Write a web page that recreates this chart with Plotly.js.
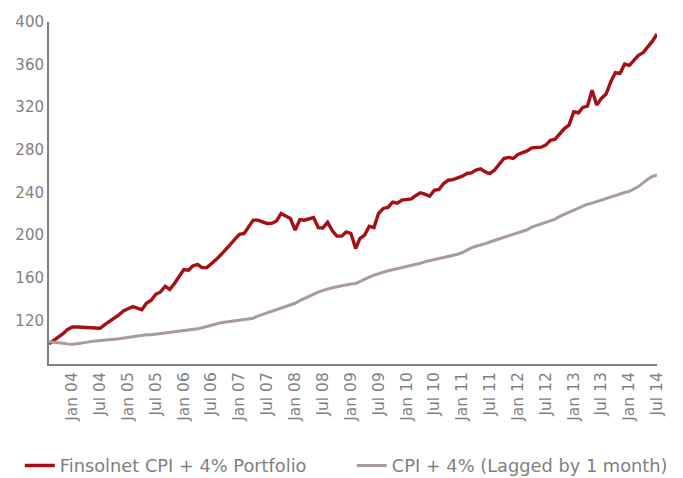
<!DOCTYPE html>
<html>
<head>
<meta charset="utf-8">
<script src="https://cdn.plot.ly/plotly-3.0.1.min.js"></script>
<style>html,body{margin:0;padding:0;background:#fff;}#chart{width:683px;height:478px;}</style>
</head>
<body>
<div id="chart"></div>
<script>
// Monthly series, Aug 2003 .. Jul 2014
const startYear = 2003, startMonth = 8;
const portfolio = [
  98, 101, 104, 107.5, 111.5, 113.7, 113.7, 113.5, 113.4, 113, 112.8, 112.5,
  116, 119, 122, 125, 128.8, 130.5, 133, 131.5, 130, 136, 138.8, 144.4,
  146.6, 152, 149, 154.5, 161, 167.6, 167, 171, 172.6, 169.5, 169.5, 173,
  177, 181.5, 185.8, 191, 196, 200.8, 201.5, 208, 214, 214, 212, 210.9,
  211, 213.3, 220.3, 218, 215.5, 204.6, 214.6, 214, 215, 216.5, 207, 206.7,
  212, 204, 199, 199, 203, 201.5, 187.4, 197, 200, 208.3, 207, 220.3,
  225, 226, 231, 230, 232.8, 233.5, 234, 237, 239.6, 238.4, 236.5, 242,
  242.8, 248.4, 251.5, 252, 253.5, 255.3, 257.8, 258.4, 261, 262.2, 259.3, 257.8,
  261, 267, 271.9, 272.9, 271.9, 275.7, 277.6, 279, 281.9, 281.9, 282.5, 284.4,
  289, 290, 295.4, 300, 303.2, 315.7, 314.8, 319.8, 321, 336, 322, 328.3,
  332.3, 343.9, 352.4, 351.8, 360.5, 359.3, 364.3, 368.7, 371.2, 376, 382, 388.7
];
const cpiPlus4 = [
  99.8, 99.5, 99, 98.5, 97.8, 97.5, 98, 98.8, 99.5, 100, 100.5, 100.8,
  101.5, 102, 102.3, 102.8, 103.5, 104, 104.3, 105, 105.8, 106.5, 106.5, 107,
  107.5, 108, 109, 109.5, 110, 110.5, 111, 111.5, 112, 113, 114, 115,
  116.5, 117.8, 118.5, 119, 119.5, 120, 121, 121.5, 122, 124, 125.5, 127,
  128.5, 130, 131, 132.5, 134, 136, 138.5, 140.5, 142, 144, 146.5, 148,
  149.5, 150.5, 151.5, 152.5, 153.5, 154, 154.5, 156.5, 159, 160.5, 162.5, 164,
  165.5, 166.5, 167.5, 168.5, 169.5, 170.5, 171, 172, 173.5, 175, 176, 176.5,
  177.5, 178.5, 179.5, 180.5, 182, 183.5, 186, 188, 189.5, 190.5, 192, 193.5,
  195, 196.5, 198, 199.5, 200.5, 202, 203.5, 205, 207.5, 209, 210.5, 212,
  214, 215, 217.5, 219.5, 221, 223, 225.5, 227.5, 229, 230, 231.5, 233,
  234, 236, 237, 238.5, 240, 241, 243, 245.5, 249, 252.5, 255, 256.5
];
const tickLabels = ["Jan 04","Jul 04","Jan 05","Jul 05","Jan 06","Jul 06","Jan 07","Jul 07",
  "Jan 08","Jul 08","Jan 09","Jul 09","Jan 10","Jul 10","Jan 11","Jul 11","Jan 12","Jul 12",
  "Jan 13","Jul 13","Jan 14","Jul 14"];
const tickDates = ["2004-01-01","2004-07-01","2005-01-01","2005-07-01","2006-01-01","2006-07-01",
  "2007-01-01","2007-07-01","2008-01-01","2008-07-01","2009-01-01","2009-07-01","2010-01-01",
  "2010-07-01","2011-01-01","2011-07-01","2012-01-01","2012-07-01","2013-01-01","2013-07-01",
  "2014-01-01","2014-07-01"];
const yTicks = [120,160,200,240,280,320,360,400];
const seriesNames = ["Finsolnet CPI + 4% Portfolio", "CPI + 4% (Lagged by 1 month)"];

function monthDate(i){
  const t = (startMonth - 1) + i;
  const y = startYear + Math.floor(t/12);
  const m = (t % 12) + 1;
  return y + "-" + (m<10?"0":"") + m + "-01";
}
const dates = portfolio.map((_, i) => monthDate(i));

const textColor = "#7f7f7f";
const fam = "DejaVu Sans, sans-serif";

const traces = [
  {x: dates, y: portfolio, name: seriesNames[0], type: "scatter", mode: "lines",
   line: {color: "#a50f15", width: 3.4}, legend: "legend"},
  {x: dates, y: cpiPlus4, name: seriesNames[1], type: "scatter", mode: "lines",
   line: {color: "#a99b9b", width: 3}, legend: "legend2"}
];

const legendFont = {family: fam, size: 17.8, color: textColor};
const layout = {
  width: 683, height: 478,
  margin: {l: 49, r: 26, t: 22, b: 114, autoexpand: false},
  paper_bgcolor: "#fff", plot_bgcolor: "#fff",
  font: {family: fam, size: 15, color: textColor},
  showlegend: true,
  legend: {orientation: "h", x: -0.048, xanchor: "left", y: -0.298, yanchor: "middle",
           font: legendFont, bgcolor: "rgba(0,0,0,0)"},
  legend2: {orientation: "h", x: 0.498, xanchor: "left", y: -0.298, yanchor: "middle",
           font: legendFont, bgcolor: "rgba(0,0,0,0)"},
  xaxis: {
    type: "date", range: [dates[0], dates[dates.length-1]], automargin: false,
    tickmode: "array", tickvals: tickDates, ticktext: tickLabels,
    tickangle: -90, tickfont: {family: fam, size: 15.5, color: textColor},
    showgrid: false, zeroline: false, showline: true, linecolor: "#808080", linewidth: 2,
    ticks: "", ticklen: 0
  },
  yaxis: {
    range: [79, 400], tickmode: "array", tickvals: yTicks, automargin: false,
    tickfont: {family: fam, size: 15, color: textColor},
    showgrid: false, zeroline: false, showline: true, linecolor: "#808080", linewidth: 2,
    ticks: "", ticklen: 0
  }
};

Plotly.newPlot("chart", traces, layout, {displayModeBar: false, staticPlot: true});
</script>
</body>
</html>
